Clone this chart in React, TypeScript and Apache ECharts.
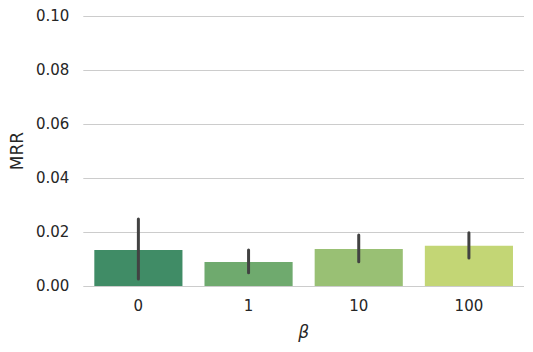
import React, { useEffect, useRef } from "react";
import * as echarts from "echarts";

const categories = ["0", "1", "10", "100"];
const meanValues = [0.0133, 0.0089, 0.0137, 0.0149];
const ciLower = [0.0026, 0.0049, 0.0090, 0.0104];
const ciUpper = [0.0248, 0.0133, 0.0189, 0.0197];
const barColors = ["#408c66", "#6faa6e", "#99c074", "#c3d675"];

export default function App() {
  const ref = useRef<HTMLDivElement>(null);
  useEffect(() => {
    if (!ref.current) return;
    const chart = echarts.init(ref.current, null, { renderer: "svg" });
    const font = "DejaVu Sans";
    chart.setOption({
      animation: false,
      grid: { left: 81, right: 9, top: 16, bottom: 66 },
      xAxis: {
        type: "category",
        data: categories,
        name: "β",
        nameLocation: "middle",
        nameGap: 37,
        nameTextStyle: { fontFamily: font, fontSize: 17, fontStyle: "italic", color: "#262626" },
        axisLine: { show: false },
        axisTick: { show: false },
        axisLabel: { fontFamily: font, fontSize: 15, color: "#262626", margin: 12 },
      },
      yAxis: {
        type: "value",
        min: 0,
        max: 0.1,
        interval: 0.02,
        name: "MRR",
        nameLocation: "middle",
        nameGap: 53,
        nameTextStyle: { fontFamily: font, fontSize: 17, color: "#262626" },
        axisLine: { show: false },
        axisTick: { show: false },
        axisLabel: {
          fontFamily: font,
          fontSize: 15,
          color: "#262626",
          margin: 14,
          formatter: (v: number) => v.toFixed(2),
        },
        splitLine: { lineStyle: { color: "#cccccc", width: 1 } },
      },
      series: [
        {
          type: "bar",
          barWidth: "80%",
          data: meanValues.map((v, i) => ({ value: v, itemStyle: { color: barColors[i] } })),
        },
        {
          type: "custom",
          data: categories.map((_, i) => [i, ciLower[i], ciUpper[i]]),
          renderItem: (params: any, api: any) => {
            const lo = api.coord([api.value(0), api.value(1)]);
            const hi = api.coord([api.value(0), api.value(2)]);
            return {
              type: "line",
              shape: { x1: lo[0], y1: lo[1], x2: hi[0], y2: hi[1] },
              style: { stroke: "#424242", lineWidth: 3, lineCap: "round" },
            };
          },
          z: 10,
        },
      ],
    });
    return () => chart.dispose();
  }, []);
  return <div ref={ref} style={{ width: 533, height: 352, position: "absolute", left: 0, top: 0 }} />;
}
